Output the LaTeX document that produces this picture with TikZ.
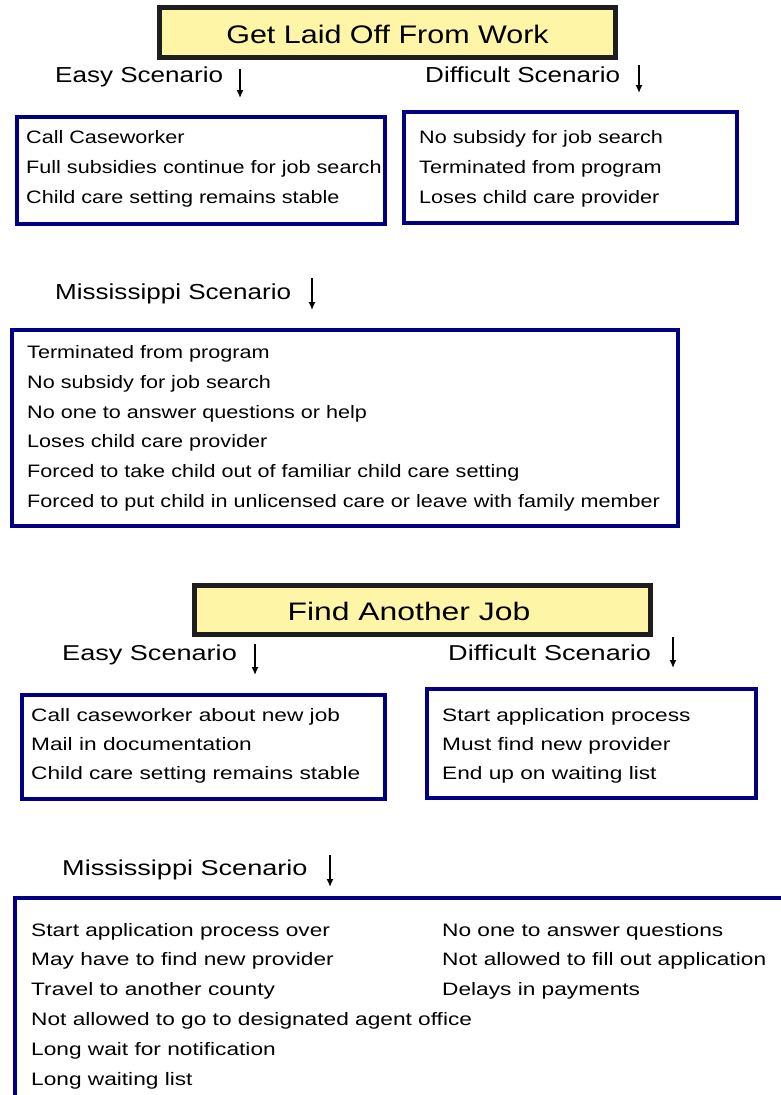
\documentclass[tikz,border=0pt]{standalone}
\usepackage{fontspec}
\setmainfont{Liberation Sans}
\newfontfamily\partone[FakeStretch=1.2]{Liberation Sans}
\newfontfamily\parttwo[FakeStretch=1.26]{Liberation Sans}
\usetikzlibrary{arrows.meta}
\definecolor{titlefill}{HTML}{FFF5A6}
\definecolor{titledraw}{HTML}{1E1E1E}
\definecolor{boxnavy}{HTML}{000080}
\begin{document}
\begin{tikzpicture}[x=1pt, y=-1pt,
  titlebox/.style={draw=titledraw, line width=5pt, fill=titlefill, inner sep=0pt},
  listbox/.style={draw=boxnavy, line width=3.6pt, inner sep=0pt},
  entry/.style={anchor=base west, inner sep=0pt},
  down/.style={-{Latex[length=8pt,width=7pt]}, line width=1.4pt},
  bodyA/.style={font=\partone\fontsize{18}{22}\selectfont},
  bodyB/.style={font=\parttwo\fontsize{18}{22}\selectfont},
  labelA/.style={font=\partone\fontsize{21.7}{26}\selectfont},
  labelB/.style={font=\parttwo\fontsize{21.5}{26}\selectfont}]
\useasboundingbox (0,0) rectangle (781,1095);
\clip (0,0) rectangle (781,1095);
% laid off
\node[titlebox, minimum width=456, minimum height=50] (titleA) at (387.5,32.5){};
\node[anchor=base, inner sep=0pt, font=\partone\fontsize{25.4}{30}\selectfont] (titleAtxt) at (387.5,43){Get Laid Off From Work};
\node[entry, labelA] (easyAlbl) at (55,82){Easy Scenario};
\coordinate (easyAtop) at (240,69);
\coordinate (easyAtip) at (240,98);
\draw[down](easyAtop) -- (easyAtip);
\node[entry, labelA] (diffAlbl) at (425,82){Difficult Scenario};
\coordinate (diffAtop) at (639,65);
\coordinate (diffAtip) at (639,93);
\draw[down](diffAtop) -- (diffAtip);
\node[listbox, minimum width=368, minimum height=107] (easyA) at (201,170.5){};
\node[entry, bodyA] (easyA1) at (26,143){Call Caseworker};
\node[entry, bodyA] (easyA2) at (26,173){Full subsidies continue for job search};
\node[entry, bodyA] (easyA3) at (26,203){Child care setting remains stable};
\node[listbox, minimum width=333, minimum height=111] (diffA) at (570.5,167.5){};
\node[entry, bodyA] (diffA1) at (419,143){No subsidy for job search};
\node[entry, bodyA] (diffA2) at (419,173){Terminated from program};
\node[entry, bodyA] (diffA3) at (419,203){Loses child care provider};
\node[entry, labelA] (missAlbl) at (55,299){Mississippi Scenario};
\coordinate (missAtop) at (312,278);
\coordinate (missAtip) at (312,310);
\draw[down](missAtop) -- (missAtip);
\node[listbox, minimum width=666, minimum height=196] (missA) at (345,428){};
\node[entry, bodyA] (missA1) at (27,358){Terminated from program};
\node[entry, bodyA] (missA2) at (27,388){No subsidy for job search};
\node[entry, bodyA] (missA3) at (27,418){No one to answer questions or help};
\node[entry, bodyA] (missA4) at (27,447){Loses child care provider};
\node[entry, bodyA] (missA5) at (27,477){Forced to take child out of familiar child care setting};
\node[entry, bodyA] (missA6) at (27,507){Forced to put child in unlicensed care or leave with family member};
% new job
\node[titlebox, minimum width=456, minimum height=49] (titleB) at (422.5,610){};
\node[anchor=base, inner sep=0pt, font=\parttwo\fontsize{25.3}{30}\selectfont] (titleBtxt) at (409,620){Find Another Job};
\node[entry, labelB] (easyBlbl) at (62,660){Easy Scenario};
\coordinate (easyBtop) at (255,644);
\coordinate (easyBtip) at (255,675);
\draw[down](easyBtop) -- (easyBtip);
\node[entry, labelB] (diffBlbl) at (448,660){Difficult Scenario};
\coordinate (diffBtop) at (673,637);
\coordinate (diffBtip) at (673,668);
\draw[down](diffBtop) -- (diffBtip);
\node[listbox, minimum width=363, minimum height=104] (easyB) at (203.5,747){};
\node[entry, bodyB] (easyB1) at (31,721){Call caseworker about new job};
\node[entry, bodyB] (easyB2) at (31,750){Mail in documentation};
\node[entry, bodyB] (easyB3) at (31,779){Child care setting remains stable};
\node[listbox, minimum width=329, minimum height=109] (diffB) at (591.5,743.5){};
\node[entry, bodyB] (diffB1) at (442,721){Start application process};
\node[entry, bodyB] (diffB2) at (442,750){Must find new provider};
\node[entry, bodyB] (diffB3) at (442,779){End up on waiting list};
\node[entry, labelB] (missBlbl) at (62,875){Mississippi Scenario};
\coordinate (missBtop) at (330,855);
\coordinate (missBtip) at (330,887);
\draw[down](missBtop) -- (missBtip);
\node[listbox, anchor=north west, minimum width=820, minimum height=320] (missB) at (13,896){};
\node[entry, bodyB] (missB1) at (31,936){Start application process over};
\node[entry, bodyB] (missB2) at (31,965){May have to find new provider};
\node[entry, bodyB] (missB3) at (31,995){Travel to another county};
\node[entry, bodyB] (missB4) at (31,1025){Not allowed to go to designated agent office};
\node[entry, bodyB] (missB5) at (31,1055){Long wait for notification};
\node[entry, bodyB] (missB6) at (31,1085){Long waiting list};
\node[entry, bodyB] (missB7) at (442,936){No one to answer questions};
\node[entry, bodyB] (missB8) at (442,965){Not allowed to fill out application};
\node[entry, bodyB] (missB9) at (442,995){Delays in payments};
\end{tikzpicture}
\end{document}
